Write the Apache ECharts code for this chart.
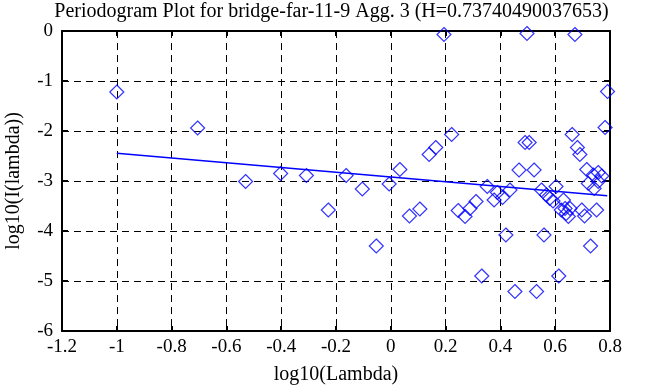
<!DOCTYPE html>
<html><head><meta charset="utf-8">
<script src="https://cdn.jsdelivr.net/npm/echarts@6/dist/echarts.min.js"></script>
<style>html,body{margin:0;padding:0;background:#fff}#c{width:663px;height:387px}</style>
</head><body><div id="c"></div>
<script>
const titleText = 'Periodogram Plot for bridge-far-11-9 Agg. 3 (H=0.73740490037653)';
const xName = 'log10(Lambda)';
const yName = 'log10(I(lambda))';
const xTicks = [-1.2, -1, -0.8, -0.6, -0.4, -0.2, 0, 0.2, 0.4, 0.6, 0.8];
const yTicks = [0, -1, -2, -3, -4, -5, -6];
const pointsX = [-1.000,-0.705,-0.530,-0.402,-0.308,-0.228,-0.163,-0.104,-0.053,-0.006,
  0.033,0.068,0.106,0.140,0.164,0.194,0.222,0.246,0.271,0.289,
  0.311,0.332,0.352,0.377,0.389,0.408,0.420,0.435,0.453,0.468,
  0.490,0.497,0.505,0.523,0.532,0.550,0.559,0.568,0.580,0.592,
  0.603,0.613,0.622,0.630,0.636,0.640,0.648,0.654,0.662,0.672,
  0.681,0.690,0.697,0.707,0.715,0.721,0.729,0.739,0.742,0.751,
  0.757,0.757,0.770,0.782,0.791];
const pointsY = [-1.22,-1.94,-3.01,-2.85,-2.89,-3.58,-2.89,-3.16,-4.30,-3.06,
  -2.77,-3.70,-3.56,-2.47,-2.33,-0.07,-2.07,-3.59,-3.71,-3.55,
  -3.41,-4.90,-3.11,-3.38,-3.23,-3.33,-4.08,-3.18,-5.21,-2.78,
  -2.23,-0.05,-2.23,-2.78,-5.21,-3.18,-4.08,-3.28,-3.35,-3.40,
  -3.11,-4.90,-3.58,-3.38,-3.55,-3.65,-3.71,-3.55,-2.07,-0.07,
  -2.33,-2.47,-3.58,-3.70,-2.77,-3.05,-4.30,-2.88,-3.15,-3.58,
  -2.83,-3.01,-2.90,-1.93,-1.21];
const fitX = [-1.0, 0.79];
const fitY = [-2.445, -3.295];

const font = 'Liberation Serif';
const chart = echarts.init(document.getElementById('c'));
const fmt = v => { const r = Math.round(v*10)/10; return r === 0 ? '0' : String(r); };
const gridLine = {show:true, lineStyle:{color:'#000', type:[7,5], width:1}};
const axisLine = {show:true, onZero:false, lineStyle:{color:'#000', width:2}};
const tick = len => ({show:true, inside:true, length:len, lineStyle:{color:'#000', width:2}});
chart.setOption({
  animation:false,
  title:{text:titleText, left:'center', top:-3, textStyle:{fontFamily:font, fontSize:20, fontWeight:'normal', color:'#000'}},
  grid:{left:62, right:53, top:31, bottom:56, containLabel:false, outerBoundsMode:'none'},
  xAxis:[{type:'value', min:-1.2, max:0.8, interval:0.2, position:'bottom',
    name:xName, nameLocation:'middle', nameGap:34,
    nameTextStyle:{fontFamily:font, fontSize:20, color:'#000'},
    axisLine:axisLine, axisTick:tick(5),
    axisLabel:{formatter:fmt, fontFamily:font, fontSize:19, color:'#000', margin:7},
    splitLine:gridLine},
   {type:'value', min:-1.2, max:0.8, interval:0.2, position:'top',
    axisLine:axisLine, axisTick:tick(5),
    axisLabel:{show:false}, splitLine:{show:false}}],
  yAxis:[{type:'value', min:-6, max:0, interval:1, position:'left',
    name:yName, nameLocation:'middle', nameGap:38,
    nameTextStyle:{fontFamily:font, fontSize:20, color:'#000'},
    axisLine:axisLine, axisTick:tick(6),
    axisLabel:{formatter:fmt, fontFamily:font, fontSize:19, color:'#000', margin:9},
    splitLine:gridLine},
   {type:'value', min:-6, max:0, interval:1, position:'right',
    axisLine:axisLine, axisTick:tick(6),
    axisLabel:{show:false}, splitLine:{show:false}}],
  series:[
    {type:'scatter', symbol:'diamond', symbolSize:14,
     itemStyle:{color:'rgba(0,0,0,0)', borderColor:'#0000ff', borderWidth:1.2},
     data:pointsX.map((x,i)=>[x, pointsY[i]]), z:3},
    {type:'line', symbol:'none', lineStyle:{color:'#0000ff', width:1.5},
     data:fitX.map((x,i)=>[x, fitY[i]]), z:4}
  ]
});
</script></body></html>
